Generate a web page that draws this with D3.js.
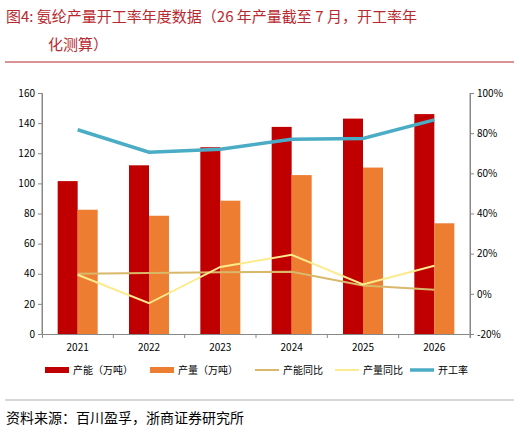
<!DOCTYPE html><html><head><meta charset="utf-8"><script src="https://cdn.jsdelivr.net/npm/d3@7"></script>
<style>body{margin:0;background:#fff}text{font-family:"Noto Sans CJK SC",sans-serif}</style></head><body><svg id="c" width="520" height="433"></svg>
<script>
const years=["2021","2022","2023","2024","2025","2026"];
const capacity=[101.5,112,124,137.5,143,146];
const production=[82.5,78.5,88.5,105.5,110.5,73.5];
const capYoy=[10,10.4,10.7,11,4.2,2];
const prodYoy=[9.5,-4.7,13.4,19.4,4.7,14];
const utilization=[81.7,70.5,72,77,77.4,86.6];
const leftTicks=[0,20,40,60,80,100,120,140,160];
const rightTicks=[-20,0,20,40,60,80,100];

const svg=d3.select("#c");
const L=42,R=470,T=93,B=334;
const x=d3.scaleBand().domain(years).range([L,R]);
const y=d3.scaleLinear().domain([0,160]).range([B,T]);
const y2=d3.scaleLinear().domain([-20,100]).range([B,T]);
const red="#C00000",org="#ED7D31";
svg.append("text").attr("x",6).attr("y",22).attr("fill","#b8292f").attr("font-size",15).text("图4:    氨纶产量开工率年度数据（26 年产量截至 7 月，开工率年");
svg.append("text").attr("x",48).attr("y",50).attr("fill","#b8292f").attr("font-size",15).text("化测算）");
svg.append("line").attr("x1",5).attr("x2",514).attr("y1",62).attr("y2",62).attr("stroke","#b8292f").attr("stroke-width",1.2);

const bw=20;
svg.selectAll(".c").data(years).enter().append("rect").attr("x",d=>x(d)+x.bandwidth()/2-bw).attr("width",bw)
 .attr("y",(d,i)=>y(capacity[i])).attr("height",(d,i)=>B-y(capacity[i])).attr("fill",red);
svg.selectAll(".p").data(years).enter().append("rect").attr("x",d=>x(d)+x.bandwidth()/2).attr("width",bw)
 .attr("y",(d,i)=>y(production[i])).attr("height",(d,i)=>B-y(production[i])).attr("fill",org);

const ax=svg.append("g").attr("transform",`translate(0,${B})`).call(d3.axisBottom(x).tickSize(4).tickFormat(""));
ax.selectAll(".tick line").attr("transform",`translate(${x.bandwidth()/2},0)`);
years.forEach(d=>svg.append("text").attr("x",x(d)+x.bandwidth()/2).attr("y",B+17).attr("text-anchor","middle").attr("font-size",10).attr("font-family","Arial").text(d));
svg.append("line").attr("x1",L).attr("x2",L).attr("y1",T).attr("y2",B).attr("stroke","#888");
svg.append("line").attr("x1",R).attr("x2",R).attr("y1",T).attr("y2",B).attr("stroke","#888");
const gl=svg.append("g").attr("transform",`translate(${L},0)`).call(d3.axisLeft(y).tickValues(leftTicks).tickSize(4));
const gr=svg.append("g").attr("transform",`translate(${R},0)`).call(d3.axisRight(y2).tickValues(rightTicks).tickSize(4).tickFormat(d=>d+"%"));
[gl,gr,ax].forEach(g=>{g.select(".domain").attr("stroke","#888");g.selectAll("line").attr("stroke","#888");g.selectAll("text").attr("font-size",10).attr("font-family","Arial").attr("fill","#000");});

const xc=d=>x(d)+x.bandwidth()/2;
const line=arr=>d3.line().x((d,i)=>xc(years[i])).y(d=>y2(d))(arr);
svg.append("path").attr("d",line(capYoy)).attr("fill","none").attr("stroke","#D9B86A").attr("stroke-width",2);
svg.append("path").attr("d",line(prodYoy)).attr("fill","none").attr("stroke","#FBEB8C").attr("stroke-width",2);
svg.append("path").attr("d",line(utilization)).attr("fill","none").attr("stroke","#4BACC6").attr("stroke-width",3.5);

const leg=[["产能（万吨）",red,"rect"],["产量（万吨）",org,"rect"],["产能同比","#D9B86A","line"],["产量同比","#FBEB8C","line"],["开工率","#4BACC6","line2"]];
const lx=[45,150,255,335,410];
leg.forEach((l,i)=>{
 const g=svg.append("g").attr("transform",`translate(${lx[i]},370)`);
 if(l[2]==="rect")g.append("rect").attr("x",0).attr("y",-3).attr("width",24).attr("height",6).attr("fill",l[1]);
 else g.append("line").attr("x1",0).attr("x2",24).attr("y1",0).attr("y2",0).attr("stroke",l[1]).attr("stroke-width",l[2]==="line2"?3.5:2);
 g.append("text").attr("x",28).attr("y",4).attr("font-size",10).text(l[0]);
});
svg.append("line").attr("x1",5).attr("x2",514).attr("y1",400).attr("y2",400).attr("stroke","#999").attr("stroke-width",0.8);
svg.append("text").attr("x",6).attr("y",423).attr("font-size",14).text("资料来源：百川盈孚，浙商证券研究所");
</script></body></html>
